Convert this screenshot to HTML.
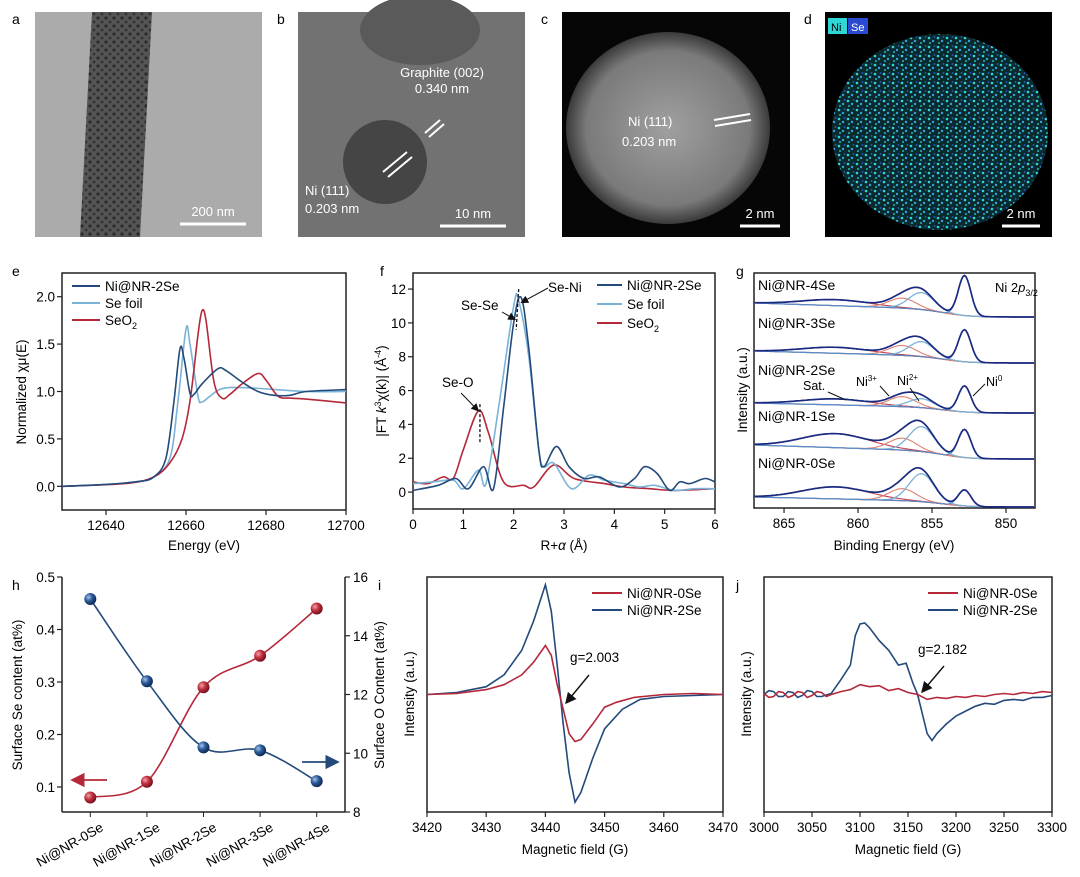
<!DOCTYPE html>
<html><head><meta charset="utf-8"><style>
body{margin:0;background:#fff}
svg{display:block;font-family:"Liberation Sans","Noto Sans CJK SC",sans-serif}
</style></head><body>
<svg id="fig" width="1080" height="877" viewBox="0 0 1080 877" xmlns="http://www.w3.org/2000/svg">
<defs>
<radialGradient id="gc" cx="50%" cy="50%" r="50%"><stop offset="0" stop-color="#a0a0a0"/><stop offset="0.8" stop-color="#7a7a7a"/><stop offset="1" stop-color="#3a3a3a"/></radialGradient>
<pattern id="spk" width="9" height="9" patternUnits="userSpaceOnUse"><rect width="9" height="9" fill="#0b2a2e"/><circle cx="2" cy="2" r="1.3" fill="#2fd6d6"/><circle cx="6" cy="5" r="1.2" fill="#3aa0e0"/><circle cx="3" cy="7" r="1" fill="#22b8b8"/><circle cx="7.5" cy="1" r="0.9" fill="#2a5cd0"/></pattern>
<pattern id="rodp" width="8" height="8" patternUnits="userSpaceOnUse"><rect width="8" height="8" fill="#555"/><circle cx="2" cy="2" r="1.6" fill="#2a2a2a"/><circle cx="6" cy="6" r="1.4" fill="#333"/></pattern>
<marker id="ah" markerWidth="8" markerHeight="8" refX="7" refY="4" orient="auto"><path d="M0,0 L8,4 L0,8 z" fill="#111"/></marker>
<marker id="ahw" markerWidth="8" markerHeight="8" refX="7" refY="4" orient="auto"><path d="M0,0 L8,4 L0,8 z" fill="#fff"/></marker>
<marker id="ahr" markerWidth="8" markerHeight="8" refX="7" refY="4" orient="auto"><path d="M0,0 L8,4 L0,8 z" fill="#b5283a"/></marker>
<marker id="ahb" markerWidth="8" markerHeight="8" refX="7" refY="4" orient="auto"><path d="M0,0 L8,4 L0,8 z" fill="#234a7a"/></marker>
<radialGradient id="ballr" cx="35%" cy="35%" r="65%"><stop offset="0" stop-color="#f3a0a8"/><stop offset="0.5" stop-color="#c0303f"/><stop offset="1" stop-color="#7a1020"/></radialGradient>
<radialGradient id="ballb" cx="35%" cy="35%" r="65%"><stop offset="0" stop-color="#a8c4e8"/><stop offset="0.5" stop-color="#2a5a9a"/><stop offset="1" stop-color="#0e2a55"/></radialGradient>
</defs>

<!-- Panel a -->
<g>
<rect x="35" y="12" width="227" height="225" fill="#ababab"/>
<polygon points="92,12 152,12 140,237 80,237" fill="url(#rodp)"/>
<line x1="180" y1="224" x2="246" y2="224" stroke="#fff" stroke-width="3"/>
<text x="213" y="216" font-size="13" fill="#fff" text-anchor="middle">200 nm</text>
</g>
<!-- Panel b -->
<g>
<rect x="298" y="12" width="227" height="225" fill="#727272"/>
<ellipse cx="420" cy="30" rx="60" ry="35" fill="#5a5a5a"/>
<circle cx="385" cy="162" r="42" fill="#454545"/>
<line x1="383" y1="172" x2="407" y2="152" stroke="#fff" stroke-width="2"/>
<line x1="388" y1="177" x2="412" y2="157" stroke="#fff" stroke-width="2"/>
<line x1="425" y1="133" x2="440" y2="120" stroke="#fff" stroke-width="2"/>
<line x1="429" y1="137" x2="444" y2="124" stroke="#fff" stroke-width="2"/>
<text x="442" y="77" font-size="13" fill="#fff" text-anchor="middle">Graphite (002)</text>
<text x="442" y="93" font-size="13" fill="#fff" text-anchor="middle">0.340 nm</text>
<text x="305" y="195" font-size="13" fill="#fff">Ni (111)</text>
<text x="305" y="213" font-size="13" fill="#fff">0.203 nm</text>
<line x1="440" y1="226" x2="506" y2="226" stroke="#fff" stroke-width="3"/>
<text x="473" y="218" font-size="13" fill="#fff" text-anchor="middle">10 nm</text>
</g>
<!-- Panel c -->
<g>
<rect x="562" y="12" width="228" height="225" fill="#060606"/>
<ellipse cx="668" cy="128" rx="102" ry="96" fill="url(#gc)"/>
<line x1="714" y1="120" x2="750" y2="114" stroke="#fff" stroke-width="2"/>
<line x1="715" y1="126" x2="751" y2="120" stroke="#fff" stroke-width="2"/>
<text x="628" y="126" font-size="13" fill="#fff">Ni (111)</text>
<text x="622" y="146" font-size="13" fill="#fff">0.203 nm</text>
<line x1="740" y1="226" x2="780" y2="226" stroke="#fff" stroke-width="3"/>
<text x="760" y="218" font-size="13" fill="#fff" text-anchor="middle">2 nm</text>
</g>
<!-- Panel d -->
<g>
<rect x="825" y="12" width="227" height="225" fill="#000"/>
<ellipse cx="940" cy="132" rx="108" ry="98" fill="url(#spk)"/>
<rect x="828" y="18" width="19" height="16" fill="#2fd6d6"/><text x="831" y="31" font-size="11" fill="#000">Ni</text>
<rect x="848" y="18" width="20" height="16" fill="#2a4ad0"/><text x="851" y="31" font-size="11" fill="#fff">Se</text>
<line x1="1002" y1="226" x2="1040" y2="226" stroke="#fff" stroke-width="3"/>
<text x="1021" y="218" font-size="13" fill="#fff" text-anchor="middle">2 nm</text>
</g>
<g font-size="14">
<text x="12" y="24">a</text><text x="277" y="24">b</text><text x="541" y="24">c</text><text x="804" y="24">d</text>
<text x="12" y="276">e</text><text x="380" y="276">f</text><text x="736" y="276">g</text>
<text x="12" y="590">h</text><text x="378" y="590">i</text><text x="736" y="590">j</text>
</g>
<g id="charts"></g>
</svg>
<script>
// ---- panel e data ----
const eNi2Se = [[12629,0],[12640,0.02],[12648,0.05],[12652,0.1],[12655,0.3],[12657,0.9],[12658.5,1.45],[12659.5,1.35],[12661,0.98],[12662,0.97],[12664,1.08],[12668,1.24],[12670,1.22],[12674,1.1],[12678,1.0],[12682,0.96],[12686,0.96],[12690,1.0],[12700,1.02]];
const eSeFoil = [[12629,0],[12640,0.02],[12648,0.05],[12652,0.1],[12656,0.3],[12658,0.9],[12660,1.66],[12661,1.5],[12663,0.95],[12664,0.89],[12666,0.95],[12669,1.03],[12675,1.04],[12690,1.0],[12700,1.0]];
const eSeO2 = [[12629,0],[12645,0.03],[12652,0.1],[12656,0.25],[12659,0.5],[12661,0.9],[12663,1.6],[12664,1.85],[12665,1.75],[12667,1.1],[12669,0.93],[12671,0.97],[12674,1.08],[12678,1.19],[12680,1.12],[12683,0.95],[12686,0.93],[12690,0.92],[12700,0.88]];
const eXTicks = [12640,12660,12680,12700];
const eYTicks = [0.0,0.5,1.0,1.5,2.0];
// ---- panel f data ----
const fNi2Se = [[0,0.1],[0.5,0.4],[0.85,0.8],[1.1,0.2],[1.4,1.5],[1.6,0.2],[1.8,5],[2.0,10],[2.15,11.5],[2.3,8.5],[2.5,2.5],[2.6,1.5],[2.85,2.7],[3.1,1.5],[3.4,0.8],[3.7,0.9],[4.1,0.3],[4.4,0.8],[4.6,1.5],[4.85,1.1],[5.1,0.1],[5.3,0.6],[5.5,0.5],[5.8,0.8],[6,0.6]];
const fSeFoil = [[0,0.5],[0.4,0.6],[0.8,0.7],[1.0,0.2],[1.3,1.3],[1.45,0.5],[1.7,5],[2.0,11],[2.1,11.3],[2.3,8],[2.5,2.5],[2.6,1.5],[2.8,1.7],[3.15,0.2],[3.5,1.0],[3.8,0.7],[4.2,0.5],[4.5,0.3],[4.8,0.4],[5.2,0.1],[5.6,0.2],[6,0.2]];
const fSeO2 = [[0,0.6],[0.3,0.5],[0.6,0.9],[0.8,0.8],[1.0,2.5],[1.3,4.8],[1.5,3.5],[1.8,0.6],[2.2,0.4],[2.4,0.3],[2.8,1.6],[3.2,0.8],[3.8,0.5],[4.2,0.3],[4.7,0.2],[5.2,0.1],[6,0.2]];
const fXTicks = [0,1,2,3,4,5,6];
const fYTicks = [0,2,4,6,8,10,12];
// ---- panel g data (component heights per sample) ----
const gSamples = ["Ni@NR-4Se","Ni@NR-3Se","Ni@NR-2Se","Ni@NR-1Se","Ni@NR-0Se"];
const gNi0 = [40,32,26,28,16];
const gNi2 = [17,15,9,25,28];
const gNi3 = [10,10,10,12,12];
const gSat = [6,6,6,14,12];
const gBg = [14,12,10,14,10];
const gXTicks = [865,860,855,850];
// ---- panel h data ----
const hCats = ["Ni@NR-0Se","Ni@NR-1Se","Ni@NR-2Se","Ni@NR-3Se","Ni@NR-4Se"];
const hSe = [0.08,0.11,0.29,0.35,0.44];
const hO = [15.25,12.45,10.2,10.1,9.05];
const hLeftTicks = [0.1,0.2,0.3,0.4,0.5];
const hRightTicks = [8,10,12,14,16];
// ---- panel i data ----
const i0Se = [[3420,0],[3425,0.01],[3430,0.05],[3433,0.1],[3436,0.2],[3438,0.33],[3440,0.5],[3441,0.4],[3442,0.1],[3443,-0.15],[3444,-0.4],[3445,-0.48],[3446,-0.46],[3448,-0.3],[3450,-0.13],[3452,-0.08],[3455,-0.03],[3460,0],[3465,0.01],[3470,0]];
const i2Se = [[3420,0],[3425,0.02],[3430,0.08],[3433,0.2],[3436,0.45],[3438,0.75],[3440,1.12],[3441,0.85],[3442,0.3],[3443,-0.3],[3444,-0.8],[3445,-1.1],[3446,-1.0],[3448,-0.65],[3450,-0.35],[3453,-0.15],[3456,-0.05],[3460,-0.02],[3470,0]];
const iXTicks = [3420,3430,3440,3450,3460,3470];
// ---- panel j data ----
const j0Se = [[3000,0.01],[3005,-0.03],[3010,-0.02],[3015,0.03],[3020,0.02],[3025,-0.03],[3030,-0.01],[3035,0.03],[3040,0.02],[3045,-0.03],[3050,-0.01],[3055,0.03],[3060,0.02],[3065,-0.02],[3070,0.0],[3080,0.03],[3090,0.05],[3100,0.1],[3110,0.08],[3120,0.09],[3130,0.04],[3140,0.06],[3150,0.02],[3160,0.0],[3170,-0.05],[3180,-0.03],[3190,-0.04],[3200,-0.02],[3210,-0.03],[3220,-0.01],[3230,-0.02],[3240,0.0],[3250,0.01],[3260,0.0],[3270,0.02],[3280,0.01],[3290,0.03],[3300,0.02]];
const j2Se = [[3000,0],[3005,0.04],[3010,0.03],[3015,-0.02],[3020,-0.02],[3025,0.03],[3030,0.02],[3035,-0.03],[3040,-0.01],[3045,0.04],[3050,0.03],[3055,-0.02],[3060,-0.02],[3070,0.01],[3080,0.15],[3090,0.3],[3095,0.6],[3100,0.72],[3105,0.73],[3110,0.68],[3120,0.55],[3130,0.45],[3140,0.3],[3148,0.32],[3155,0.12],[3160,0.0],[3165,-0.2],[3170,-0.4],[3175,-0.47],[3180,-0.4],[3190,-0.3],[3200,-0.22],[3210,-0.17],[3220,-0.12],[3230,-0.09],[3240,-0.1],[3250,-0.06],[3260,-0.05],[3270,-0.06],[3280,-0.03],[3290,-0.03],[3300,-0.01]];
const jXTicks = [3000,3050,3100,3150,3200,3250,3300];

const NS = "http://www.w3.org/2000/svg";
const root = document.getElementById('charts');
const DB = "#234a7a", LB = "#7ab3d8", RD = "#b5283a";
function mk(tag, attrs, parent, txt){const el=document.createElementNS(NS,tag);for(const k in attrs)el.setAttribute(k,attrs[k]);if(txt!==undefined)el.textContent=txt;(parent||root).appendChild(el);return el;}
function lin(d0,d1,r0,r1){return v=>r0+(v-d0)/(d1-d0)*(r1-r0);}
function smooth(pts){let d="M"+pts[0][0].toFixed(1)+","+pts[0][1].toFixed(1);for(let i=0;i<pts.length-1;i++){const p0=pts[Math.max(0,i-1)],p1=pts[i],p2=pts[i+1],p3=pts[Math.min(pts.length-1,i+2)];const c1=[p1[0]+(p2[0]-p0[0])/6,p1[1]+(p2[1]-p0[1])/6],c2=[p2[0]-(p3[0]-p1[0])/6,p2[1]-(p3[1]-p1[1])/6];d+=" C"+c1[0].toFixed(1)+","+c1[1].toFixed(1)+" "+c2[0].toFixed(1)+","+c2[1].toFixed(1)+" "+p2[0].toFixed(1)+","+p2[1].toFixed(1);}return d;}
function poly(pts){return "M"+pts.map(p=>p[0].toFixed(1)+","+p[1].toFixed(1)).join(" L");}
function frame(g,x0,y0,x1,y1){const r=mk('rect',{x:x0,y:y0,width:x1-x0,height:y1-y0,fill:'none',stroke:'#222','stroke-width':1.5},g);}
function xAxis(g,ticks,sx,y1,fmt){ticks.forEach(t=>{const x=sx(t);const l=mk('line',{x1:x,y1:y1,x2:x,y2:y1+5,stroke:'#222','stroke-width':1.2},g);const tx=mk('text',{x:x,y:y1+20,'font-size':13.5,'text-anchor':'middle'},g,fmt?fmt(t):t);});}
function yAxis(g,ticks,sy,x0,fmt,right){ticks.forEach(t=>{const y=sy(t);const l=mk('line',{x1:x0,y1:y,x2:right?x0+5:x0-5,y2:y,stroke:'#222','stroke-width':1.2},g);const tx=mk('text',{x:right?x0+8:x0-7,y:y+5,'font-size':13.5,'text-anchor':right?'start':'end'},g,fmt?fmt(t):t);});}
function title(g,x,y,txt,rot,name){const t=mk('text',{x:x,y:y,'font-size':13.5,'text-anchor':'middle',transform:rot?`rotate(-90 ${x} ${y})`:''},g);t.innerHTML=txt;return t;}
function curve(g,d,color,name,w){const p=mk('path',{d:d,fill:'none',stroke:color,'stroke-width':w||1.6},g);}
function legend(g,x,y,color,label,len){const l=mk('line',{x1:x,y1:y,x2:x+len,y2:y,stroke:color,'stroke-width':2},g);const t=mk('text',{x:x+len+5,y:y+5,'font-size':13.5},g);t.innerHTML=label;}

// ===== Panel e =====
{const g=mk('g',{});
const x0=62,x1=346,y0=273,y1=510;const sx=lin(12629,12700,x0,x1),sy=lin(-0.25,2.25,y1,y0);
frame(g,x0,y0,x1,y1);xAxis(g,eXTicks,sx,y1);yAxis(g,eYTicks,sy,x0,t=>t.toFixed(1));
const m=a=>a.map(p=>[sx(p[0]),sy(p[1])]);
curve(g,smooth(m(eSeFoil)),LB,'se-foil-line');curve(g,smooth(m(eSeO2)),RD,'seo2-line');curve(g,smooth(m(eNi2Se)),DB,'ni-nr-2se-line');
legend(g,72,286,DB,'Ni@NR-2Se',28);legend(g,72,303,LB,'Se foil',28);legend(g,72,320,RD,'SeO<tspan font-size="9" dy="4">2</tspan>',28);
title(g,204,550,'Energy (eV)',false,'x-axis-title');title(g,26,392,'Normalized &#967;&#956;(E)',true,'y-axis-title');}

// ===== Panel f =====
{const g=mk('g',{});
const x0=413,x1=715,y0=273,y1=509;const sx=lin(0,6,x0,x1),sy=lin(-1,12.95,y1,y0);
frame(g,x0,y0,x1,y1);xAxis(g,fXTicks,sx,y1);yAxis(g,fYTicks,sy,x0);
const m=a=>a.map(p=>[sx(p[0]),sy(p[1])]);
curve(g,smooth(m(fSeO2)),RD,'seo2-line');curve(g,smooth(m(fSeFoil)),LB,'se-foil-line');curve(g,smooth(m(fNi2Se)),DB,'ni-nr-2se-line');
legend(g,597,285,DB,'Ni@NR-2Se',25);legend(g,597,304,LB,'Se foil',25);legend(g,597,323,RD,'SeO<tspan font-size="9" dy="4">2</tspan>',25);
mk('line',{x1:sx(1.33),y1:sy(5.2),x2:sx(1.33),y2:sy(2.9),stroke:'#111','stroke-dasharray':'3,2','stroke-width':1.3},g);
mk('line',{x1:sx(2.1),y1:sy(12),x2:sx(2.05),y2:sy(9.6),stroke:'#111','stroke-dasharray':'3,2','stroke-width':1.3},g);
mk('text',{x:442,y:387,'font-size':13.5},g,'Se-O');mk('line',{x1:461,y1:393,x2:sx(1.3),y2:sy(4.8),stroke:'#111','marker-end':'url(#ah)'},g);
mk('text',{x:461,y:310,'font-size':13.5},g,'Se-Se');mk('line',{x1:502,y1:312,x2:sx(2.03),y2:sy(10.2),stroke:'#111','marker-end':'url(#ah)'},g);
mk('text',{x:548,y:292,'font-size':13.5},g,'Se-Ni');mk('line',{x1:548,y1:288,x2:sx(2.15),y2:sy(11.2),stroke:'#111','marker-end':'url(#ah)'},g);
title(g,564,550,'R+<tspan font-style="italic">&#945;</tspan> (Å)',false,'x-axis-title');
title(g,386,391,'|FT <tspan font-style="italic">k</tspan><tspan font-size="9" dy="-5">3</tspan><tspan dy="5">&#967;(k)| (Å</tspan><tspan font-size="9" dy="-5">-4</tspan><tspan dy="5">)</tspan>',true,'y-axis-title');}

// ===== Panel g =====
{const g=mk('g',{});
const x0=754,x1=1035,y0=273,y1=508;const sx=lin(867.03,848.04,x0,x1);
frame(g,x0,y0,x1,y1);xAxis(g,gXTicks,sx,y1);
const bases=[317,363,413,459,507];const labY=[290,328,375,421,468];
const gauss=(e,c,w)=>Math.exp(-Math.pow((e-c)/w,2));
gSamples.forEach((name,k)=>{const b=bases[k];const E=[];for(let e=867;e>=848.04;e-=0.1)E.push(e);
 const bg=e=>gBg[k]*(1/(1+Math.exp(-(e-854)/0.9)))*(0.55+0.45*(e-854)/13);
 const comp=(c,w,h)=>E.map(e=>[sx(e),b-bg(e)-h*gauss(e,c,w)]);
 curve(g,poly(E.map(e=>[sx(e),b-bg(e)])),'#7a2030','xps-background-'+k,1.2);
 curve(g,poly(comp(861.5,3.2,gSat[k])),'#c04050','xps-sat-'+k,1.1);
 curve(g,poly(comp(857.0,1.3,gNi3[k])),'#e08070','xps-ni3-'+k,1.1);
 curve(g,poly(comp(855.7,1.2,gNi2[k])),LB,'xps-ni2-'+k,1.3);
 curve(g,poly(comp(852.8,0.6,gNi0[k])),'#5a8ac8','xps-ni0-'+k,1.1);
 curve(g,poly(E.map(e=>[sx(e),b-bg(e)-gSat[k]*gauss(e,861.5,3.2)-gNi3[k]*gauss(e,857,1.3)-gNi2[k]*gauss(e,855.7,1.2)-gNi0[k]*gauss(e,852.8,0.6)])),'#1a2a80','xps-envelope-'+k,1.7);
 const t=mk('text',{x:758,y:labY[k],'font-size':14},g,name);});
const nt=mk('text',{x:995,y:292,'font-size':13},g);nt.innerHTML='Ni 2<tspan font-style="italic">p</tspan><tspan font-size="9" dy="4">3/2</tspan>';
mk('text',{x:803,y:390,'font-size':12.5},g,'Sat.');mk('line',{x1:828,y1:392,x2:846,y2:400,stroke:'#111','stroke-width':1},g);
const n3=mk('text',{x:856,y:386,'font-size':12.5},g);n3.innerHTML='Ni<tspan font-size="8" dy="-5">3+</tspan>';mk('line',{x1:880,y1:386,x2:889,y2:396,stroke:'#111'},g);
const n2=mk('text',{x:897,y:385,'font-size':12.5},g);n2.innerHTML='Ni<tspan font-size="8" dy="-5">2+</tspan>';mk('line',{x1:910,y1:388,x2:919,y2:401,stroke:'#111'},g);
const n0=mk('text',{x:986,y:386,'font-size':12.5},g);n0.innerHTML='Ni<tspan font-size="8" dy="-5">0</tspan>';mk('line',{x1:985,y1:384,x2:973,y2:396,stroke:'#111'},g);
title(g,894,550,'Binding Energy (eV)',false,'x-axis-title');title(g,747,390,'Intensity (a.u.)',true,'y-axis-title');}

// ===== Panel h =====
{const g=mk('g',{});
const x0=62,x1=345,y0=577,y1=812;const sx=lin(-0.5,4.5,x0,x1),syL=lin(0.0524,0.5,y1,y0),syR=lin(8,16,y1,y0);
mk('line',{x1:x0,y1:y1,x2:x1,y2:y1,stroke:'#222','stroke-width':1.5},g);mk('line',{x1:x0,y1:y0,x2:x0,y2:y1,stroke:'#222','stroke-width':1.5},g);mk('line',{x1:x1,y1:y0,x2:x1,y2:y1,stroke:'#222','stroke-width':1.5},g);
yAxis(g,hLeftTicks,syL,x0,t=>t.toFixed(1));yAxis(g,hRightTicks,syR,x1,null,true);
hCats.forEach((c,i)=>{const x=sx(i);mk('line',{x1:x,y1:y1,x2:x,y2:y1+5,stroke:'#222'},g);const t=mk('text',{x:x+14,y:y1+18,'font-size':13.5,'text-anchor':'end',transform:`rotate(-30 ${x+14} ${y1+18})`},g,c);});
const rp=hSe.map((v,i)=>[sx(i),syL(v)]),bp=hO.map((v,i)=>[sx(i),syR(v)]);
curve(g,smooth(rp),RD,'se-content-fit-line');curve(g,smooth(bp),DB,'o-content-fit-line');
rp.forEach(p=>{const c=mk('circle',{cx:p[0],cy:p[1],r:6,fill:'url(#ballr)'},g);});
bp.forEach(p=>{const c=mk('circle',{cx:p[0],cy:p[1],r:6,fill:'url(#ballb)'},g);});
mk('line',{x1:107,y1:780,x2:72,y2:780,stroke:RD,'stroke-width':1.8,'marker-end':'url(#ahr)'},g);
mk('line',{x1:302,y1:762,x2:338,y2:762,stroke:DB,'stroke-width':1.8,'marker-end':'url(#ahb)'},g);
title(g,22,695,'Surface Se content (at%)',true,'left-y-axis-title');title(g,384,695,'Surface O Content (at%)',true,'right-y-axis-title');}

// ===== Panel i & j =====
function epr(name,x0,x1,dom,ticks,s0,s2,leg,gtxt,gx,gy,ar){const g=mk('g',{});
const y0=577,y1=812;const sx=lin(dom[0],dom[1],x0,x1),sy=lin(-1.2,1.2,y1,y0);
frame(g,x0,y0,x1,y1);xAxis(g,ticks,sx,y1);
const m=a=>a.map(p=>[sx(p[0]),sy(p[1])]);
curve(g,poly(m(s2)),DB,'ni-nr-2se-line');curve(g,poly(m(s0)),RD,'ni-nr-0se-line');
legend(g,leg,593,RD,'Ni@NR-0Se',30);legend(g,leg,610,DB,'Ni@NR-2Se',30);
mk('text',{x:gx,y:gy,'font-size':13.5},g,gtxt);mk('line',{x1:ar[0],y1:ar[1],x2:ar[2],y2:ar[3],stroke:'#111','stroke-width':1.4,'marker-end':'url(#ah)'},g);
title(g,(x0+x1)/2,854,'Magnetic field (G)',false,'x-axis-title');title(g,x0-13,694,'Intensity (a.u.)',true,'y-axis-title');}
epr('panel-i-epr',427,723,[3420,3470],iXTicks,i0Se,i2Se,592,'g=2.003',570,662,[589,675,566,703]);
epr('panel-j-epr',764,1052,[3000,3300],jXTicks,j0Se,j2Se,928,'g=2.182',918,654,[944,666,922,692]);
</script>
</body></html>
